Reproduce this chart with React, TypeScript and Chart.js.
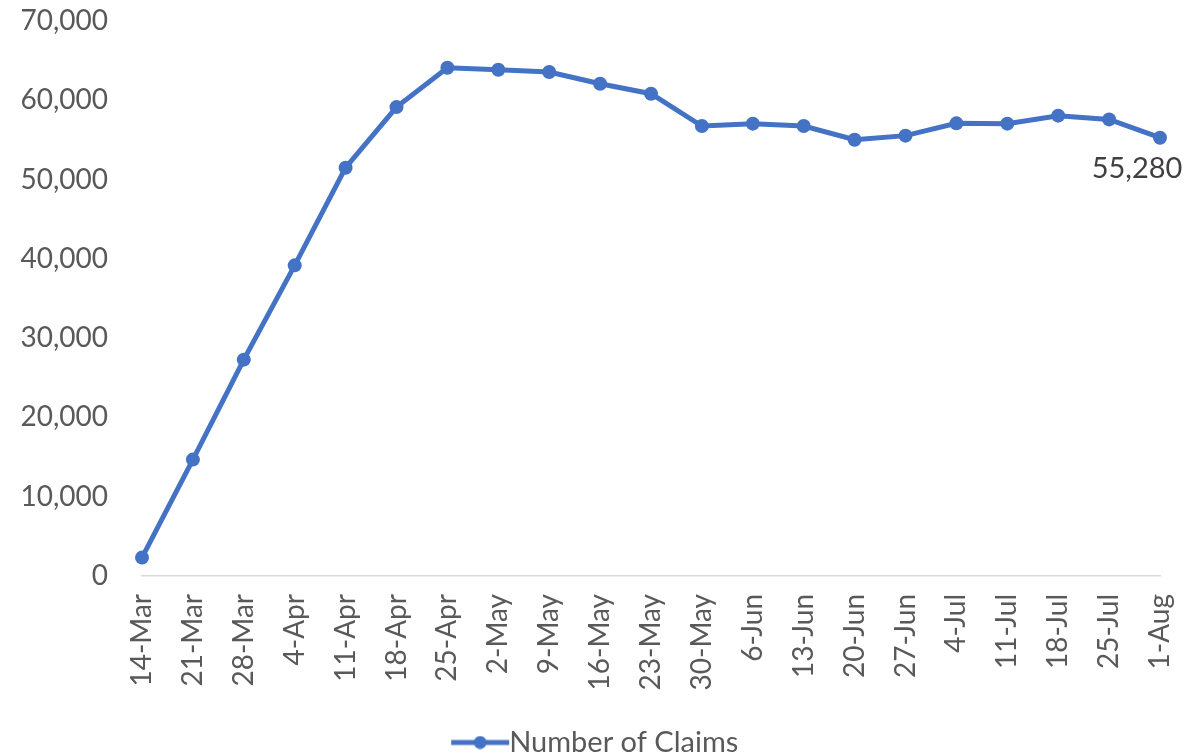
import React, { useEffect, useRef } from "react";
import { Chart, registerables } from "chart.js";

Chart.register(...registerables);

const categories = [
  "14-Mar", "21-Mar", "28-Mar", "4-Apr", "11-Apr", "18-Apr", "25-Apr",
  "2-May", "9-May", "16-May", "23-May", "30-May", "6-Jun", "13-Jun",
  "20-Jun", "27-Jun", "4-Jul", "11-Jul", "18-Jul", "25-Jul", "1-Aug",
];

const claims = [
  2320, 14680, 27290, 39180, 51500, 59140, 64110,
  63860, 63560, 62090, 60830, 56750, 57050, 56750,
  55030, 55540, 57090, 57050, 58060, 57590, 55280,
];

const seriesName = "Number of Claims";
const labelledIndex = claims.length - 1;

const BLUE = "#4472C4";
const TEXT = "#595959";
const FONT = "Lato, 'Open Sans', sans-serif";

function makeLegendIcon(): HTMLCanvasElement {
  const c = document.createElement("canvas");
  c.width = 60;
  c.height = 14;
  const ctx = c.getContext("2d")!;
  ctx.strokeStyle = BLUE;
  ctx.lineWidth = 5;
  ctx.beginPath();
  ctx.moveTo(1, 7);
  ctx.lineTo(59, 7);
  ctx.stroke();
  ctx.fillStyle = BLUE;
  ctx.beginPath();
  ctx.arc(30, 7, 6.5, 0, Math.PI * 2);
  ctx.fill();
  return c;
}

const dataLabelPlugin = {
  id: "lastLabel",
  afterDatasetsDraw(chart: any) {
    const meta = chart.getDatasetMeta(0);
    const pt = meta.data[labelledIndex];
    if (!pt) return;
    const ctx = chart.ctx;
    ctx.save();
    ctx.font = `29px ${FONT}`;
    ctx.fillStyle = "#404040";
    ctx.textAlign = "center";
    ctx.textBaseline = "middle";
    ctx.fillText(claims[labelledIndex].toLocaleString("en-US"), pt.x - 23, pt.y + 31);
    ctx.restore();
  },
};

export default function App() {
  const ref = useRef<HTMLCanvasElement | null>(null);

  useEffect(() => {
    document.body.style.margin = "0";
    const icon = makeLegendIcon();
    const chart = new Chart(ref.current!, {
      type: "line",
      data: {
        labels: categories,
        datasets: [
          {
            label: seriesName,
            data: claims,
            borderColor: BLUE,
            backgroundColor: BLUE,
            borderWidth: 5,
            pointRadius: 7,
            pointHoverRadius: 7,
            pointBackgroundColor: BLUE,
            pointBorderWidth: 0,
            tension: 0,
          },
        ],
      },
      options: {
        animation: false,
        responsive: false,
        maintainAspectRatio: false,
        layout: { autoPadding: false, padding: { left: 0, right: -3, top: 21, bottom: -12 } },
        plugins: {
          tooltip: { enabled: false },
          legend: {
            position: "bottom",
            labels: {
              usePointStyle: true,
              padding: 10,
              color: TEXT,
              font: { family: FONT, size: 29 },
              generateLabels: () => [
                {
                  text: seriesName,
                  fillStyle: BLUE,
                  strokeStyle: BLUE,
                  lineWidth: 0,
                  pointStyle: icon,
                  hidden: false,
                  datasetIndex: 0,
                  fontColor: TEXT,
                },
              ],
            },
          },
        },
        scales: {
          x: {
            offset: false,
            grid: { display: false, drawTicks: false },
            border: { display: true, color: "#D9D9D9", width: 1.5 },
            ticks: {
              color: TEXT,
              font: { family: FONT, size: 28 },
              minRotation: 90,
              maxRotation: 90,
              autoSkip: false,
              padding: 18,
            },
            afterFit: (s: any) => {
              s.height = 142;
              s.paddingLeft = 0;
              s.paddingRight = 41;
              s.paddingTop = 0;
              s.paddingBottom = 0;
            },
          },
          y: {
            min: 0,
            max: 70000,
            grid: { display: false, drawTicks: false },
            border: { display: false },
            ticks: {
              stepSize: 10000,
              color: TEXT,
              font: { family: FONT, size: 28 },
              padding: 34,
              callback: (v: any) => Number(v).toLocaleString("en-US"),
            },
            afterFit: (s: any) => {
              s.width = 142;
              s.paddingLeft = 0;
              s.paddingRight = 0;
              s.paddingTop = 0;
              s.paddingBottom = 0;
            },
          },
        },
      },
      plugins: [dataLabelPlugin],
    });
    return () => chart.destroy();
  }, []);

  return (
    <div style={{ position: "absolute", left: 0, top: 0, width: 1201, height: 755 }}>
      <canvas ref={ref} width={1201} height={755} style={{ width: 1201, height: 755 }} />
    </div>
  );
}
